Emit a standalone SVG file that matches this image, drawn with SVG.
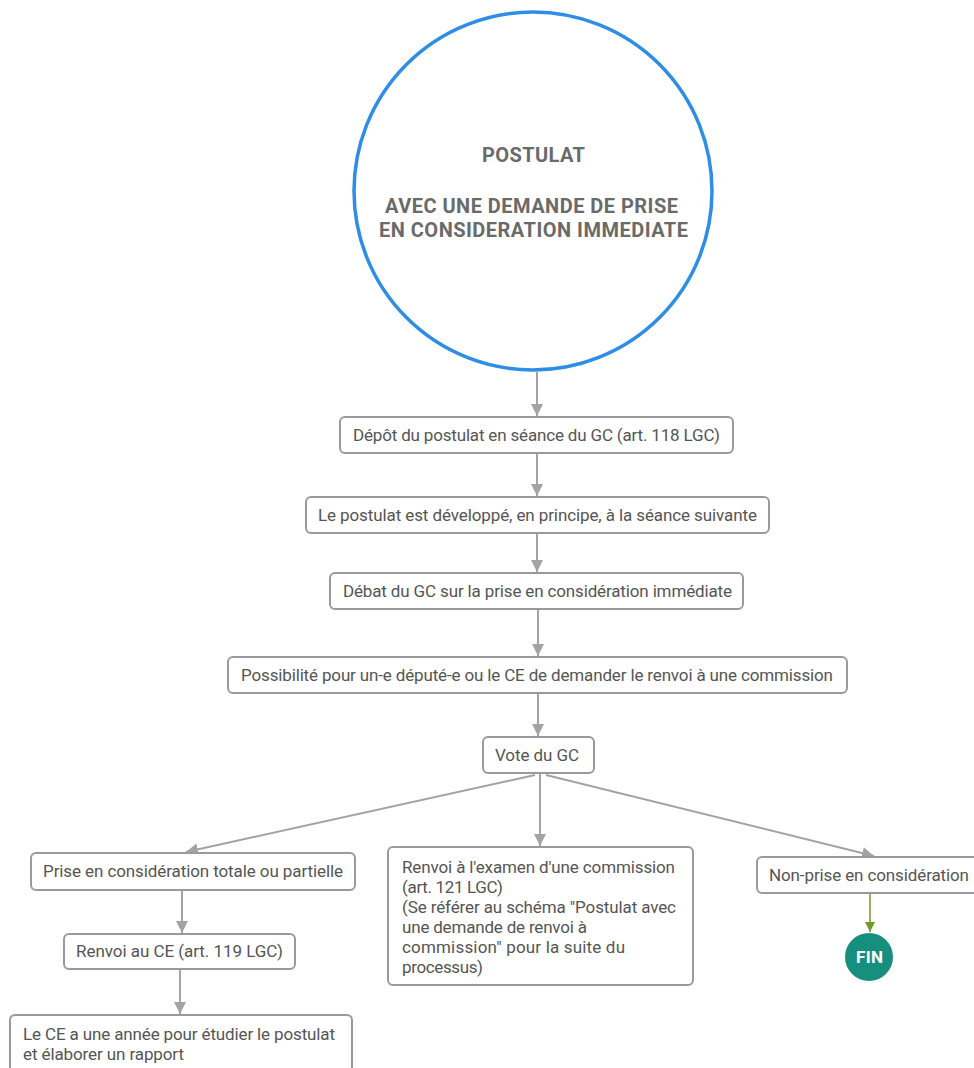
<svg xmlns="http://www.w3.org/2000/svg" width="974" height="1068" viewBox="0 0 974 1068">
<style>
.box{fill:#fff;stroke:#9a9a9a;stroke-width:2}
.t{font-family:Roboto,"Liberation Sans",sans-serif;font-size:17px;fill:#555}
.c{text-anchor:middle}
.h{font-family:Roboto,"Liberation Sans",sans-serif;font-size:20px;font-weight:bold;fill:#6a6a6a;text-anchor:middle}
.ln{stroke:#a3a3a3;stroke-width:2;fill:none;marker-end:url(#ar)}
.gl{stroke:#6f9a2e;stroke-width:1.5;fill:none;marker-end:url(#ag)}
</style>
<defs>
<marker id="ar" viewBox="0 0 10 10" refX="10" refY="5" markerWidth="6" markerHeight="6" markerUnits="strokeWidth" orient="auto"><path d="M0,0 L10,5 L0,10 z" fill="#a3a3a3"/></marker>
<marker id="ag" viewBox="0 0 10 10" refX="10" refY="5" markerWidth="7" markerHeight="7" markerUnits="strokeWidth" orient="auto"><path d="M0,0 L10,5 L0,10 z" fill="#6f9a2e"/></marker>
</defs>
<rect width="974" height="1068" fill="#fff"/>
<g id="connectors">
<line class="ln" x1="537" y1="372" x2="537" y2="416"/>
<line class="ln" x1="537" y1="454" x2="537" y2="496"/>
<line class="ln" x1="537" y1="534" x2="537" y2="572"/>
<line class="ln" x1="538" y1="610" x2="538" y2="656"/>
<line class="ln" x1="538" y1="694" x2="538" y2="736"/>
<line class="ln" x1="535" y1="775" x2="186" y2="852"/>
<line class="ln" x1="540" y1="774" x2="540" y2="846"/>
<line class="ln" x1="546" y1="775" x2="874" y2="856"/>
<line class="ln" x1="182" y1="891" x2="182" y2="933"/>
<line class="ln" x1="180" y1="970" x2="180" y2="1014"/>
<line class="gl" x1="870" y1="894" x2="870" y2="932"/>
</g>
<g id="start">
<circle cx="533" cy="191" r="179" fill="#fff" stroke="#2e8ee6" stroke-width="3.5"/>
<text class="h" x="533.5" y="162" textLength="103">POSTULAT</text>
<text class="h" x="531.5" y="213" textLength="293">AVEC UNE DEMANDE DE PRISE</text>
<text class="h" x="533.5" y="237" textLength="309">EN CONSIDERATION IMMEDIATE</text>
</g>
<g id="depot">
<rect class="box" x="340" y="417" width="393" height="36" rx="5"/>
<text class="t c" x="536.5" y="441" textLength="367">Dépôt du postulat en séance du GC (art. 118 LGC)</text>
</g>
<g id="developpe">
<rect class="box" x="306" y="497" width="463" height="36" rx="5"/>
<text class="t c" x="537.5" y="521" textLength="439">Le postulat est développé, en principe, à la séance suivante</text>
</g>
<g id="debat">
<rect class="box" x="330" y="573" width="413" height="36" rx="5"/>
<text class="t c" x="537.5" y="597" textLength="389">Débat du GC sur la prise en considération immédiate</text>
</g>
<g id="possibilite">
<rect class="box" x="228" y="657" width="619" height="36" rx="5"/>
<text class="t c" x="537" y="681" textLength="592">Possibilité pour un-e député-e ou le CE de demander le renvoi à une commission</text>
</g>
<g id="vote">
<rect class="box" x="483" y="737" width="111" height="36" rx="5"/>
<text class="t c" x="537" y="761" textLength="84">Vote du GC</text>
</g>
<g id="prise">
<rect class="box" x="31" y="853" width="324" height="37" rx="5"/>
<text class="t c" x="193" y="877" textLength="300">Prise en considération totale ou partielle</text>
</g>
<g id="renvoiCE">
<rect class="box" x="64" y="934" width="231" height="35" rx="5"/>
<text class="t c" x="179.5" y="957" textLength="207">Renvoi au CE (art. 119 LGC)</text>
</g>
<g id="annee">
<rect class="box" x="10" y="1015" width="342" height="70" rx="5"/>
<text class="t" x="23" y="1040" textLength="312">Le CE a une année pour étudier le postulat</text>
<text class="t" x="23" y="1060" textLength="161">et élaborer un rapport</text>
</g>
<g id="examen">
<rect class="box" x="388" y="847" width="305" height="138" rx="5"/>
<text class="t" x="402" y="873" textLength="273">Renvoi à l'examen d'une commission</text>
<text class="t" x="402" y="893" textLength="101">(art. 121 LGC)</text>
<text class="t" x="402" y="913" textLength="274">(Se référer au schéma "Postulat avec</text>
<text class="t" x="402" y="933" textLength="185">une demande de renvoi à</text>
<text class="t" x="402" y="953" textLength="223">commission" pour la suite du</text>
<text class="t" x="402" y="973" textLength="81">processus)</text>
</g>
<g id="nonprise">
<rect class="box" x="757" y="857" width="240" height="36" rx="5"/>
<text class="t" x="769" y="881" textLength="200">Non-prise en considération</text>
</g>
<g id="fin">
<circle cx="869" cy="957" r="24" fill="#168f7f"/>
<text x="869.5" y="963" font-family="Roboto,'Liberation Sans',sans-serif" font-size="17" font-weight="bold" fill="#fff" text-anchor="middle" textLength="27">FIN</text>
</g>
</svg>
